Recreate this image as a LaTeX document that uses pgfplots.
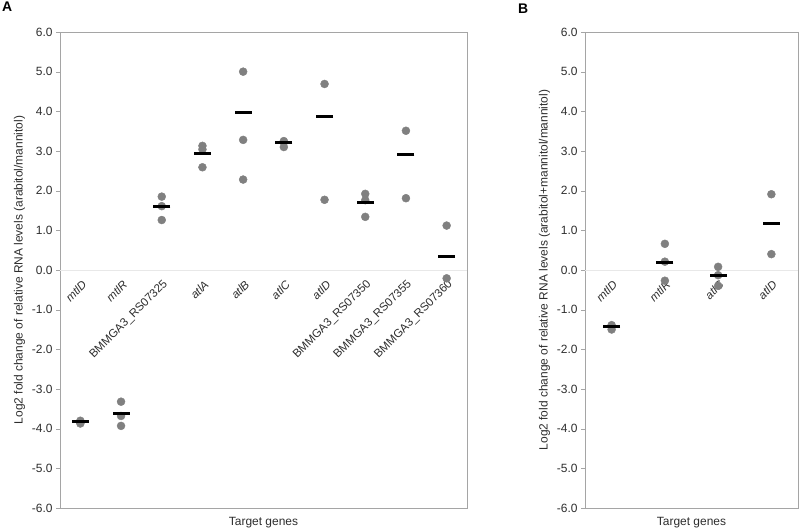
\documentclass[border=0pt]{standalone}
\usepackage{fontspec}
\setmainfont{Liberation Sans}
\usepackage{pgfplots}
\pgfplotsset{compat=1.18}

\definecolor{dotgray}{RGB}{128,128,128}
\definecolor{framegray}{RGB}{165,165,165}
\definecolor{zerogray}{RGB}{232,232,232}
\definecolor{txt}{RGB}{45,45,45}

\tikzset{
  glabel/.style={rotate=45, anchor=east, font=\fontsize{11.6}{13}\selectfont, text=txt, inner sep=1bp},
}

\pgfplotsset{
  genes/.style={
    scale only axis,
    height=476bp,
    ymin=-6, ymax=6,
    ytick={-6,-5,...,6},
    yticklabel style={/pgf/number format/.cd, fixed, fixed zerofill, precision=1, assume math mode=true},
    xtick=\empty,
    ytick pos=left,
    tick align=outside,
    major tick length=4bp,
    axis line style={framegray},
    tick style={framegray},
    font=\fontsize{12}{14}\selectfont,
    text=txt,
    clip=false,
    xlabel={Target genes},
    xlabel style={at={(axis description cs:0.5,0)}, anchor=north, yshift=-6bp},
    ylabel style={xshift=0bp},
  },
  dots/.style={only marks, mark=*, mark size=4bp, dotgray, mark options={draw=none, fill=dotgray}},
  means/.style={only marks, mark=-, mark size=8.5bp, black, mark options={line width=3bp}},
}

\begin{document}
\begin{tikzpicture}
\useasboundingbox (0bp,0bp) rectangle (800bp,529bp);

% ---------------- panel A ----------------
\begin{axis}[genes,
    at={(60bp,21bp)}, anchor=south west,
    width=407bp,
    xmin=0.5, xmax=10.5,
    ylabel={Log2 fold change of relative RNA levels (arabitol/mannitol)},
]
\addplot[zerogray, thin] coordinates {(0.5,0) (10.5,0)};

% replicates
\addplot[dots] coordinates {
  (1,-3.80) (1,-3.84) (1,-3.87)
  (2,-3.32) (2,-3.68) (2,-3.93)
  (3,1.85) (3,1.61) (3,1.26)
  (4,3.13) (4,3.04) (4,2.59)
  (5,5.00) (5,3.28) (5,2.28)
  (6,3.25) (6,3.10) (6,3.22)
  (7,4.69) (7,1.77)
  (8,1.92) (8,1.76) (8,1.34)
  (9,3.51) (9,1.81)
  (10,1.12) (10,-0.21)
};
% means
\addplot[means] coordinates {
  (1,-3.82) (2,-3.62) (3,1.60) (4,2.93) (5,3.96)
  (6,3.21) (7,3.86) (8,1.71) (9,2.91) (10,0.35)
};

\node[glabel] at (axis cs:1.12,-0.3) {\textit{mtlD}};
\node[glabel] at (axis cs:2.12,-0.3) {\textit{mtlR}};
\node[glabel] at (axis cs:3.12,-0.3) {BMMGA3\_RS07325};
\node[glabel] at (axis cs:4.12,-0.3) {\textit{atlA}};
\node[glabel] at (axis cs:5.12,-0.3) {\textit{atlB}};
\node[glabel] at (axis cs:6.12,-0.3) {\textit{atlC}};
\node[glabel] at (axis cs:7.12,-0.3) {\textit{atlD}};
\node[glabel] at (axis cs:8.12,-0.3) {BMMGA3\_RS07350};
\node[glabel] at (axis cs:9.12,-0.3) {BMMGA3\_RS07355};
\node[glabel] at (axis cs:10.12,-0.3) {BMMGA3\_RS07360};
\end{axis}

% ---------------- panel B ----------------
\begin{axis}[genes,
    at={(585bp,21bp)}, anchor=south west,
    width=213bp,
    xmin=0.5, xmax=4.5,
    ylabel={Log2 fold change of relative RNA levels (arabitol+mannitol/mannitol)},
]
\addplot[zerogray, thin] coordinates {(0.5,0) (4.5,0)};

\addplot[dots] coordinates {
  (1,-1.39) (1,-1.50) (1,-1.42)
  (2,0.66) (2,-0.27) (2,0.21)
  (3,0.08) (3,-0.40) (3,-0.13)
  (4,1.91) (4,0.40)
};
\addplot[means] coordinates {
  (1,-1.43) (2,0.20) (3,-0.15) (4,1.16)
};

\node[glabel] at (axis cs:1.08,-0.3) {\textit{mtlD}};
\node[glabel] at (axis cs:2.08,-0.3) {\textit{mtlR}};
\node[glabel] at (axis cs:3.08,-0.3) {\textit{atlC}};
\node[glabel] at (axis cs:4.08,-0.3) {\textit{atlD}};
\end{axis}

\node[font=\bfseries\fontsize{14}{16}\selectfont, anchor=north west, inner sep=0pt] at (2bp,527bp) {A};
\node[font=\bfseries\fontsize{14}{16}\selectfont, anchor=north west, inner sep=0pt] at (518bp,525bp) {B};
\end{tikzpicture}
\end{document}
